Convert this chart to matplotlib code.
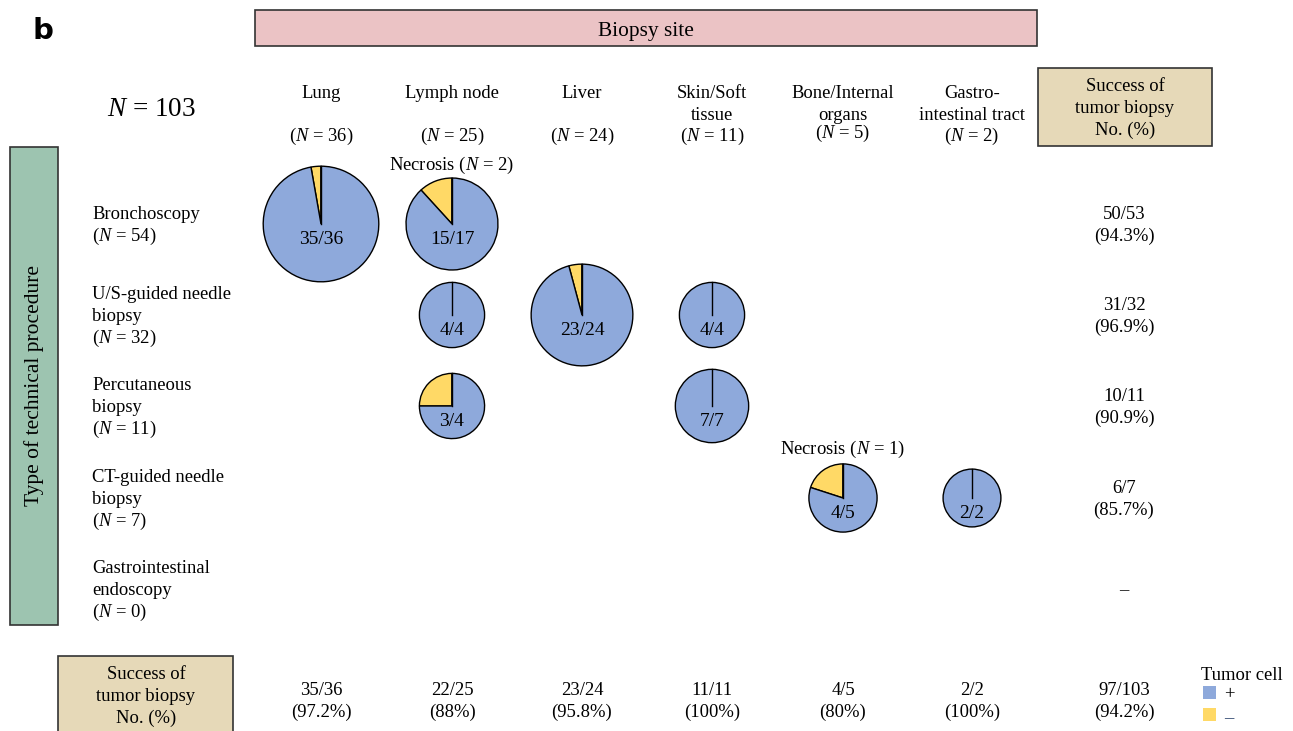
import numpy as np
import matplotlib.pyplot as plt
from matplotlib.patches import Rectangle

plt.rcParams['font.family'] = ['Liberation Serif', 'DejaVu Sans']
plt.rcParams['mathtext.fontset'] = 'custom'
plt.rcParams['mathtext.rm'] = 'Liberation Serif'
plt.rcParams['mathtext.it'] = 'Liberation Serif:italic'

# biopsy sites (columns) and procedures (rows)
sites = ['Lung', 'Lymph node', 'Liver', 'Skin/Soft\ntissue', 'Bone/Internal\norgans',
         'Gastro-\nintestinal tract']
site_n = [36, 25, 24, 11, 5, 2]
procedures = ['Bronchoscopy', 'U/S-guided needle\nbiopsy', 'Percutaneous\nbiopsy',
              'CT-guided needle\nbiopsy', 'Gastrointestinal\nendoscopy']
proc_n = [54, 32, 11, 7, 0]

# one pie per (procedure, site) cell: positive / total
cell_row = [0, 0, 1, 1, 1, 2, 2, 3, 3]
cell_col = [0, 1, 1, 2, 3, 1, 3, 4, 5]
cell_pos = [35, 15, 4, 23, 4, 3, 7, 4, 2]
cell_tot = [36, 17, 4, 24, 4, 4, 7, 5, 2]

row_success = ['50/53\n(94.3%)', '31/32\n(96.9%)', '10/11\n(90.9%)', '6/7\n(85.7%)', '–']
col_success = ['35/36\n(97.2%)', '22/25\n(88%)', '23/24\n(95.8%)', '11/11\n(100%)',
               '4/5\n(80%)', '2/2\n(100%)']
total_success = '97/103\n(94.2%)'

BLUE = '#8EA9DB'
YELLOW = '#FFD966'

W, H = 1293, 731
fig = plt.figure(figsize=(W / 100, H / 100), dpi=100)
ax = fig.add_axes([0, 0, 1, 1])

col_x = [321, 452, 582, 712, 843, 972]
row_y = [224, 315, 406, 498, 589]
succ_x = 1124
fs = 13.4
step = 22


def Y(py):
    return H - py


def lines(x, yc, text, ha='center', size=fs, **kw):
    # block of lines centred on yc, fixed pixel step, placed by baseline
    parts = text.split('\n')
    top = yc - step * (len(parts) - 1) / 2
    off = 0.33 * size * 100 / 72
    for k, s in enumerate(parts):
        ax.text(x, Y(top + k * step + off), s, ha=ha, va='baseline', fontsize=size, **kw)


def box(x0, y0, x1, y1, color):
    ax.add_patch(Rectangle((x0, Y(y1)), x1 - x0, y1 - y0, facecolor=color,
                           edgecolor='#333333', lw=1.2, zorder=1))


# header boxes
box(255, 10, 1037, 46, '#EBC3C5')
lines(646, 29, 'Biopsy site', size=15.4)
box(10, 147, 58, 625, '#9DC4B0')
ax.text(34, Y(386), 'Type of technical procedure', ha='center', va='center',
        rotation=90, fontsize=15.5)
box(1038, 68, 1212, 146, '#E6D9B8')
lines(1125, 107, 'Success of\ntumor biopsy\nNo. (%)')
box(58, 656, 233, 740, '#E6D9B8')
lines(146, 695, 'Success of\ntumor biopsy\nNo. (%)')

ax.text(43, Y(31), 'b', ha='center', va='center', fontsize=21, fontweight='bold',
        family='DejaVu Sans')
lines(151, 107, r'$N$ = 103', size=19.5)

# column headers
for i, (name, n) in enumerate(zip(sites, site_n)):
    lines(col_x[i], 92 + step * name.count('\n') / 2, name)
    ny = 132 if i == 4 else 135
    lines(col_x[i], ny, '($N$ = %d)' % n)

# row headers and row totals
for j, (name, n) in enumerate(zip(procedures, proc_n)):
    lines(92, row_y[j], '%s\n($N$ = %d)' % (name, n), ha='left')
    lines(succ_x, row_y[j], row_success[j])

# pies
for r, c, p, t in zip(cell_row, cell_col, cell_pos, cell_tot):
    cx, cy = col_x[c], Y(row_y[r])
    rad = 20 + 6.3 * np.sqrt(t)
    ax.pie([t - p, p], colors=[YELLOW, BLUE], startangle=90, counterclock=True,
           center=(cx, cy), radius=rad, frame=True,
           wedgeprops=dict(edgecolor='black', linewidth=1))
    ax.plot([cx, cx], [cy, cy + rad], color='black', lw=1)
    lines(cx, row_y[r] + 14, '%d/%d' % (p, t), size=14)

lines(451, 164, 'Necrosis ($N$ = 2)')
lines(842, 448, 'Necrosis ($N$ = 1)')

# bottom success row
for i, s in enumerate(col_success):
    lines(col_x[i], 700, s)
lines(succ_x, 700, total_success)

# legend
lines(1201, 674, 'Tumor cell', ha='left')
ax.add_patch(Rectangle((1203, Y(699)), 13, 13, facecolor=BLUE, edgecolor='none'))
ax.add_patch(Rectangle((1203, Y(721)), 13, 13, facecolor=YELLOW, edgecolor='none'))
lines(1224, 693, '+', ha='left')
lines(1224, 717, '–', ha='left', color='#1F3864')

ax.set_xlim(0, W)
ax.set_ylim(0, H)
ax.set_aspect('auto')
ax.axis('off')

fig.savefig('out.png', dpi=100)
